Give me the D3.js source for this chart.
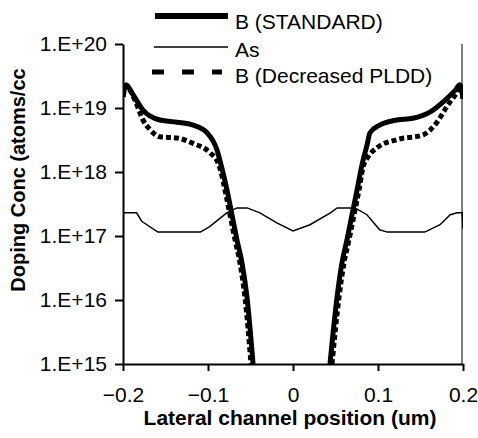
<!DOCTYPE html>
<meta charset="utf-8">
<head>
    <title>Doping profile</title>
</head>
<script src="https://d3js.org/d3.v7.min.js"></script>
<style>
  body { margin: 0; background: #fff; }
  text { font-family: "Liberation Sans", Arial, sans-serif; fill: #000; }
</style>
<div id="my_dataviz"></div>
<script>

// B (STANDARD) profile (null = below the axis floor)
var stdX = [-0.2, -0.1965, -0.188, -0.1765, -0.1565, -0.1365, -0.1176, -0.1012, -0.0894, -0.0847, -0.0776, -0.0718, -0.0659, -0.06, -0.0541, -0.047,
            0,
            0.0435, 0.0518, 0.0576, 0.0635, 0.0694, 0.0753, 0.0812, 0.087, 0.0906, 0.102, 0.122, 0.141, 0.161, 0.179, 0.191, 0.1965, 0.2];
var stdY = [1.5e19, 2.3e19, 1.6e19, 9.3e18, 6.5e18, 6.0e18, 5.4e18, 4.1e18, 2.2e18, 1.3e18, 5.2e17, 2.14e17, 8.7e16, 3.8e16, 1.1e16, 1e15,
            null,
            1e15, 1.1e16, 3.8e16, 8.7e16, 2.14e17, 5.2e17, 1.3e18, 2.6e18, 4.1e18, 5.4e18, 6.5e18, 6.9e18, 8.6e18, 1.33e19, 1.9e19, 2.3e19, 1.4e19];

// As profile
var asX = [-0.2, -0.1995, -0.184, -0.178, -0.159, -0.109, -0.098, -0.078, -0.066, -0.054, -0.039, -0.019, 0, 0.02, 0.044, 0.052, 0.073, 0.087, 0.102, 0.111, 0.155, 0.173, 0.185, 0.193, 0.199, 0.2];
var asY = [1.3e17, 2.3e17, 2.3e17, 1.7e17, 1.15e17, 1.15e17, 1.4e17, 2.3e17, 2.75e17, 2.75e17, 2.3e17, 1.6e17, 1.2e17, 1.5e17, 2.3e17, 2.75e17, 2.75e17, 2.15e17, 1.25e17, 1.15e17, 1.15e17, 1.5e17, 2.15e17, 2.3e17, 2.3e17, 1.3e17];

// B (Decreased PLDD) profile
var pldX = [-0.2, -0.1965, -0.186, -0.1765, -0.1682, -0.1565, -0.1365, -0.1176, -0.0976, -0.0882, -0.0847, -0.08, -0.0741, -0.0682, -0.0624, -0.0565, -0.0494,
            0,
            0.0459, 0.0541, 0.06, 0.0659, 0.0718, 0.0776, 0.0824, 0.088, 0.099, 0.122, 0.153, 0.169, 0.181, 0.193, 0.198, 0.2];
var pldY = [1.5e19, 2.2e19, 1.33e19, 6.5e18, 4.6e18, 3.55e18, 3.4e18, 2.8e18, 2.0e18, 1.38e18, 1.0e18, 5.2e17, 2.14e17, 8.7e16, 3.8e16, 1.1e16, 1e15,
            null,
            1e15, 1.1e16, 3.8e16, 8.7e16, 2.14e17, 5.2e17, 1.2e18, 1.7e18, 2.4e18, 3.2e18, 3.8e18, 5.9e18, 1.05e19, 1.75e19, 2.2e19, 1.4e19];

var xTicks = [-0.2, -0.1, 0, 0.1, 0.2];
var yTicks = [1e15, 1e16, 1e17, 1e18, 1e19, 1e20];
var legendLabels = ["B (STANDARD)", "As", "B (Decreased PLDD)"];

var width = 478, height = 438;
var margin = {top: 44, right: 15, bottom: 74, left: 123};

var svg = d3.select("#my_dataviz")
  .append("svg")
    .attr("width", width)
    .attr("height", height);

var xScale = d3.scaleLinear()
    .domain([-0.2, 0.2])
    .range([margin.left, width - margin.right]);

var yScale = d3.scaleLog()
    .domain([1e15, 1e20])
    .range([height - margin.bottom, margin.top]);

// clip the curves to the plot area
svg.append("clipPath").attr("id", "plotclip")
  .append("rect")
    .attr("x", margin.left)
    .attr("y", margin.top)
    .attr("width", xScale(0.2) - margin.left)
    .attr("height", yScale(1e15) - margin.top);

// gray right border
svg.append("line")
    .attr("x1", xScale(0.2) - 1).attr("x2", xScale(0.2) - 1)
    .attr("y1", yScale(1e20)).attr("y2", yScale(1e15))
    .attr("stroke", "#808080")
    .attr("stroke-width", 2);

function pts(xs, ys) {
  return xs.map(function(x, i) { return [x, ys[i]]; });
}

var line = d3.line()
    .defined(function(d) { return d[1] != null; })
    .curve(d3.curveMonotoneX)
    .x(function(d) { return xScale(d[0]); })
    .y(function(d) { return yScale(d[1]); });

var plot = svg.append("g").attr("clip-path", "url(#plotclip)");

plot.append("path")
    .attr("d", line.curve(d3.curveLinear)(pts(asX, asY)))
    .attr("fill", "none")
    .attr("stroke", "#000")
    .attr("stroke-width", 1.5);

line.curve(d3.curveMonotoneX);

plot.append("path")
    .attr("d", line(pts(stdX, stdY)))
    .attr("fill", "none")
    .attr("stroke", "#000")
    .attr("stroke-width", 5)
    .attr("stroke-linejoin", "round");

plot.append("path")
    .attr("d", line(pts(pldX, pldY)))
    .attr("fill", "none")
    .attr("stroke", "#000")
    .attr("stroke-width", 5)
    .attr("stroke-dasharray", "5,3");

// axes
var xAxis = d3.axisBottom(xScale)
    .tickValues(xTicks)
    .tickSize(7)
    .tickSizeOuter(0)
    .tickFormat(function(d) { return d === 0 ? "0" : d3.format(".1f")(d); });

var yAxis = d3.axisLeft(yScale)
    .tickValues(yTicks)
    .tickSize(8)
    .tickPadding(8)
    .tickSizeOuter(0)
    .tickFormat(function(d) { return "1.E+" + Math.round(Math.log10(d)); });

var gx = svg.append("g")
    .attr("transform", "translate(0," + yScale(1e15) + ")")
    .call(xAxis);
gx.selectAll("text").attr("y", 23).style("font-size", "21px");

var gy = svg.append("g")
    .attr("transform", "translate(" + margin.left + ",0)")
    .call(yAxis);
gy.selectAll("text").style("font-size", "21px");

svg.selectAll(".domain, .tick line")
    .attr("stroke", "#000")
    .attr("stroke-width", 2);

// axis titles
svg.append("text")
    .attr("x", 290)
    .attr("y", 425)
    .attr("text-anchor", "middle")
    .style("font-size", "21px")
    .style("font-weight", "bold")
    .text("Lateral channel position (um)");

svg.append("text")
    .attr("transform", "translate(25,180) rotate(-90)")
    .attr("text-anchor", "middle")
    .style("font-size", "20px")
    .style("font-weight", "bold")
    .text("Doping Conc (atoms/cc");

// legend
var legendRows = [
  {lineY: 16, textY: 29, x1: 155, x2: 228, w: 6, dash: null},
  {lineY: 47, textY: 57, x1: 154, x2: 228, w: 1.5, dash: null},
  {lineY: 72, textY: 83, x1: 152, x2: 222, w: 5, dash: "12,18"}
];

legendRows.forEach(function(r, i) {
  svg.append("line")
      .attr("x1", r.x1).attr("x2", r.x2)
      .attr("y1", r.lineY).attr("y2", r.lineY)
      .attr("stroke", "#000")
      .attr("stroke-width", r.w)
      .attr("stroke-dasharray", r.dash);
  svg.append("text")
      .attr("x", 235)
      .attr("y", r.textY)
      .style("font-size", "21px")
      .text(legendLabels[i]);
});

</script>
